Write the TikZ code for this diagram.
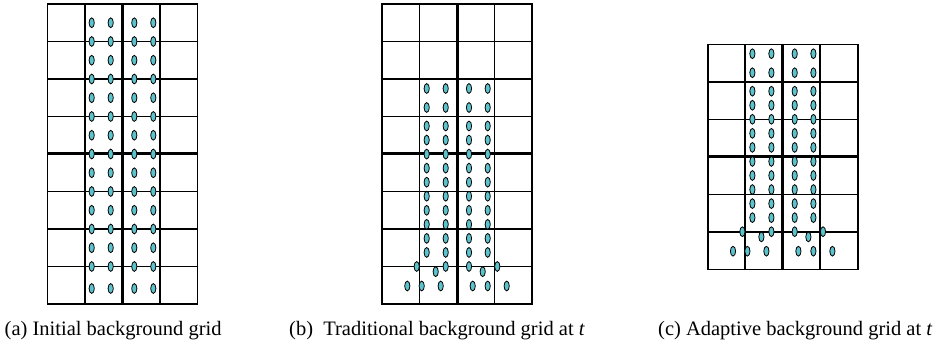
\documentclass[tikz,border=0pt]{standalone}
\usepackage{fontspec}
\setmainfont{Liberation Serif}
\definecolor{dotcol}{HTML}{5CC3CC}
\tikzset{
  gridline/.style={line width=1.7pt, draw=black},
  thickline/.style={line width=3pt, draw=black},
  dotst/.style={fill=dotcol, draw=black, line width=0.8pt},
  caption/.style={anchor=base west, inner sep=0pt, font=\fontsize{20.5}{24}\selectfont}
}
\newcommand\dotat[2]{\path[dotst] (#1,#2) ellipse [x radius=2.6pt, y radius=4.9pt];}
% grid: left, top, rows, thick-row index
\newcommand\bggrid[4]{%
  \foreach \i in {1,2,3} {\draw[gridline] ({#1+37.5*\i},#2) -- ({#1+37.5*\i},{#2+37.5*#3});}
  \foreach \j in {1,...,#3} {\draw[gridline] (#1,{#2+37.5*\j}) -- ({#1+150},{#2+37.5*\j});}
  \draw[thickline] ({#1+75},#2) -- ({#1+75},{#2+37.5*#3});
  \draw[thickline] (#1,{#2+37.5*#4}) -- ({#1+150},{#2+37.5*#4});
  \draw[gridline] (#1,#2) rectangle ({#1+150},{#2+37.5*#3});
}
\newcommand\movedots{%
  \foreach \y in {88.5,107.5} {\foreach \x in {426.7,445.7,469,487.7} {\dotat{\x}{\y}}}
  \foreach \k in {0,...,9} {\foreach \x in {426.7,445.7,469,487.7} {\dotat{\x}{126+14.05*\k}}}
  \foreach \x in {416.7,445.7,469,497.3} {\dotat{\x}{266.5}}
  \foreach \x in {435.7,482.7} {\dotat{\x}{271.7}}
  \foreach \x in {407.3,421.7,440.7,472.7,487.7,506.7} {\dotat{\x}{286}}
}
\begin{document}
\begin{tikzpicture}[x=1pt, y=-1pt]
\useasboundingbox (0,0) rectangle (946,347);
% (a) initial grid
\bggrid{47.5}{4}{8}{4}
\foreach \k in {1,...,14} {\foreach \x in {91.7,110.7,134.3,153.3} {\dotat{\x}{4+18.75*\k}}}
\foreach \x in {91.7,110.7,134.3,153.3} {\dotat{\x}{288.5}}
% (b) traditional grid
\bggrid{382}{4}{8}{4}
\movedots
% (c) adaptive grid
\bggrid{707.7}{44.5}{6}{3}
\begin{scope}[shift={(325.7,-34.8)}]
\movedots
\end{scope}
% captions
\node[caption] (capa) at (4.5,335.5) {(a) Initial background grid};
\node[caption] (capb) at (289,335.5) {(b)\ \ Traditional background grid at \textit{t}};
\node[caption] (capc) at (658,335.5) {(c) Adaptive background grid at \textit{t}};
\end{tikzpicture}
\end{document}
